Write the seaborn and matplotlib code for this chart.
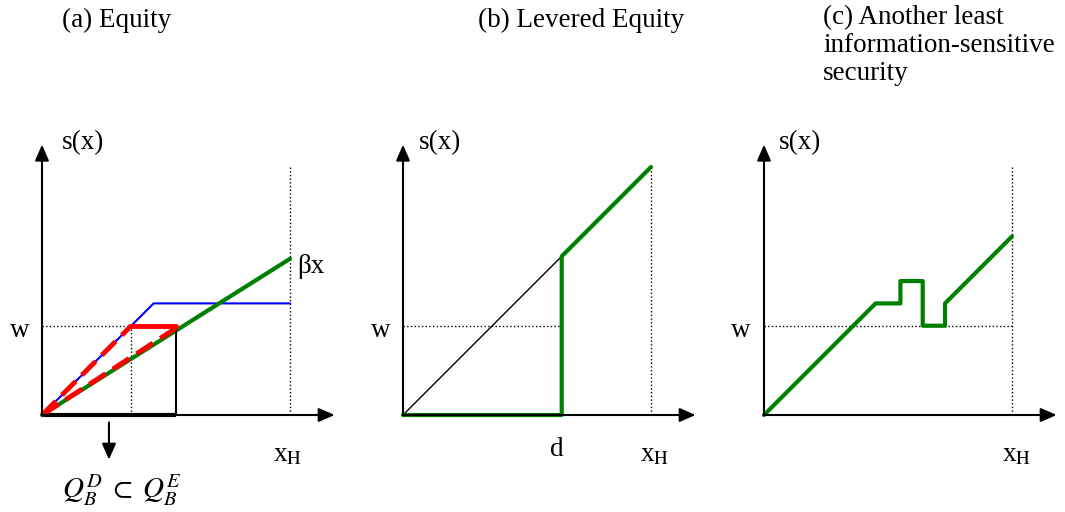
import numpy as np
import seaborn as sns
import pandas as pd
import matplotlib.pyplot as plt

sns.set_theme(style="white")
plt.rcParams["font.family"] = ["Liberation Serif", "DejaVu Serif"]
plt.rcParams["mathtext.fontset"] = "stix"
plt.rcParams["text.color"] = "black"

# panel (a) equity, in units where x_H = 100
a_green_x = [0, 100]
a_green_y = [0, 63]
a_blue_x = [0, 45, 100]
a_blue_y = [0, 45, 45]
a_red_x = [0, 36, 54]
a_red_y = [0, 36, 36]
a_red2_x = [0, 54]
a_red2_y = [0, 35]
a_w = 36
a_box_x = 54
a_mid_x = 36

# panel (b) levered equity
b_d = 64
b_green_x = [0, 64, 64, 100]
b_green_y = [0, 0, 64, 100]
b_diag_x = [0, 64]
b_diag_y = [0, 64]
b_w = 36

# panel (c) another security
c_green_x = [0, 45, 55, 55, 64, 64, 73, 73, 100]
c_green_y = [0, 45, 45, 54, 54, 36, 36, 45, 72]
c_w = 36

titles = ["(a) Equity", "(b) Levered Equity",
          "(c) Another least\ninformation-sensitive\nsecurity"]

fig = plt.figure(figsize=(10.65, 5.12), dpi=100)
W, H = 1065, 512
px = 2.48  # pixels per unit


def make_ax(ox, oy):
    # ox, oy: pixel position of origin (from top-left)
    x0, x1, y0, y1 = -30, 125, -45, 115
    ax = fig.add_axes([(ox + x0 * px) / W, (H - oy + y0 * px) / H,
                       (x1 - x0) * px / W, (y1 - y0) * px / H])
    ax.set_xlim(x0, x1)
    ax.set_ylim(y0, y1)
    ax.axis("off")
    ax.annotate("", xy=(118, 0), xytext=(0, 0),
                arrowprops=dict(arrowstyle="-|>,head_length=0.8,head_width=0.35",
                                color="black", lw=1.5, shrinkA=0, shrinkB=0))
    ax.annotate("", xy=(0, 109), xytext=(0, 0),
                arrowprops=dict(arrowstyle="-|>,head_length=0.8,head_width=0.35",
                                color="black", lw=1.5, shrinkA=0, shrinkB=0))
    return ax


def line(ax, x, y, **kw):
    sns.lineplot(x=x, y=y, ax=ax, sort=False, estimator=None, legend=False, **kw)


fs = 19.5
green = "#008000"

# ---- panel a
ax = make_ax(42, 415)
ax.plot([100, 100], [0, 100], ls=":", color="black", lw=1)
ax.plot([0, a_box_x], [a_w, a_w], ls=":", color="black", lw=1)
ax.plot([a_mid_x, a_mid_x], [0, a_w], ls=":", color="black", lw=1)
line(ax, a_blue_x, a_blue_y, color="blue", lw=1.5)
line(ax, a_green_x, a_green_y, color=green, lw=3)
ax.plot([a_box_x, a_box_x], [0, a_w], color="black", lw=1.5)
ax.plot([0, a_box_x], [0, 0], color="black", lw=3, solid_capstyle="butt")
line(ax, a_red_x[:2], a_red_y[:2], color="red", lw=3.5, dashes=(4, 1.8))
line(ax, a_red_x[1:], a_red_y[1:], color="red", lw=3.5)
line(ax, a_red2_x, a_red2_y, color="red", lw=3.5, dashes=(4, 1.8))
ax.annotate("", xy=(27, -18), xytext=(27, -3),
            arrowprops=dict(arrowstyle="-|>,head_length=0.8,head_width=0.35",
                            color="black", lw=1.5, shrinkA=0, shrinkB=0))
ax.text(16.5, 110, "s(x)", fontsize=fs, ha="center", va="center")
ax.text(-9, 34, "w", fontsize=fs, ha="center", va="center")
ax.text(103, 60, "βx", fontsize=fs, ha="left", va="center")
ax.text(99, -16, r"x$_\mathrm{H}$", fontsize=fs, ha="center", va="center")
ax.text(32, -30.5, r"$Q_B^D\;\subset\;Q_B^E$", fontsize=21, ha="center",
        va="center")

# ---- panel b
ax = make_ax(403, 415)
ax.plot([100, 100], [0, 100], ls=":", color="black", lw=1)
ax.plot([0, b_d], [b_w, b_w], ls=":", color="black", lw=1)
line(ax, b_diag_x, b_diag_y, color="black", lw=1)
line(ax, b_green_x, b_green_y, color=green, lw=3)
ax.text(15, 110, "s(x)", fontsize=fs, ha="center", va="center")
ax.text(-9, 34, "w", fontsize=fs, ha="center", va="center")
ax.text(b_d - 2, -14, "d", fontsize=fs, ha="center", va="center")
ax.text(101.5, -16, r"x$_\mathrm{H}$", fontsize=fs, ha="center", va="center")

# ---- panel c
ax = make_ax(764, 415)
ax.plot([100, 100], [0, 100], ls=":", color="black", lw=1)
ax.plot([0, 100], [c_w, c_w], ls=":", color="black", lw=1)
line(ax, c_green_x, c_green_y, color=green, lw=3)
ax.text(14.5, 110, "s(x)", fontsize=fs, ha="center", va="center")
ax.text(-9.5, 34, "w", fontsize=fs, ha="center", va="center")
ax.text(102, -16, r"x$_\mathrm{H}$", fontsize=fs, ha="center", va="center")

# titles
fig.text(62 / W, 1 - 20 / H, titles[0], fontsize=fs, ha="left", va="center")
fig.text(478 / W, 1 - 20 / H, titles[1], fontsize=fs, ha="left", va="center")
fig.text(823 / W, 1 - 5 / H, titles[2], fontsize=fs, ha="left", va="top",
         linespacing=1.15)

fig.savefig("out.png", dpi=100)
